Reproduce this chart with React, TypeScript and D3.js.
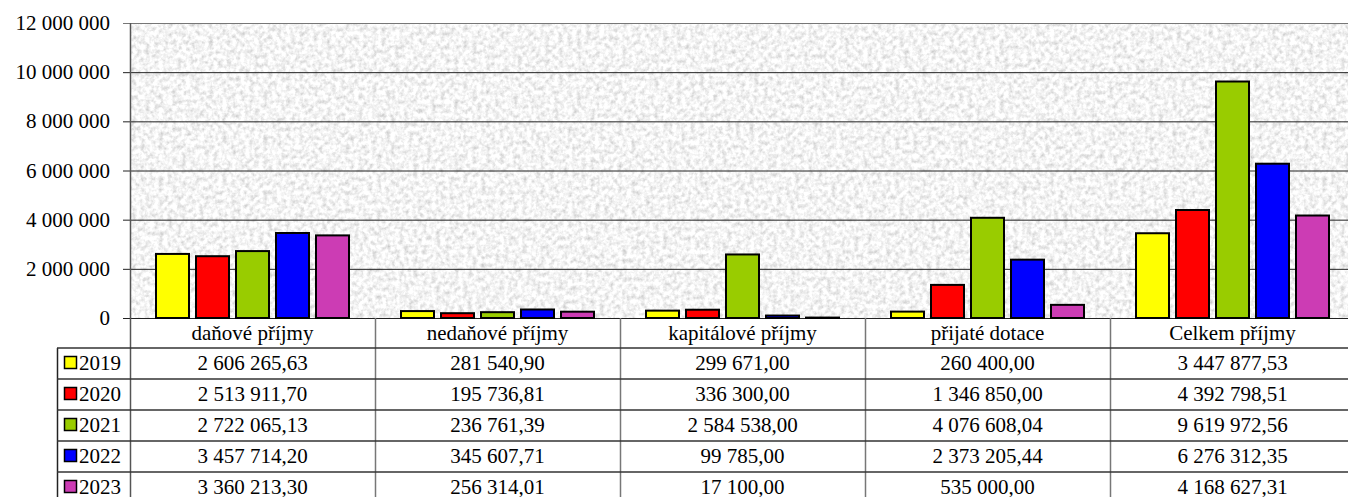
// @ts-nocheck
import { useRef, useEffect } from "react";
import * as d3 from "d3";

const categories = [
  "daňové příjmy",
  "nedaňové příjmy",
  "kapitálové příjmy",
  "přijaté dotace",
  "Celkem příjmy",
];
const years = ["2019", "2020", "2021", "2022", "2023"];
const colors = ["#ffff00", "#ff0000", "#99cc00", "#0000ff", "#cc3cb4"];

const v2019 = [2606265.63, 281540.9, 299671.0, 260400.0, 3447877.53];
const v2020 = [2513911.7, 195736.81, 336300.0, 1346850.0, 4392798.51];
const v2021 = [2722065.13, 236761.39, 2584538.0, 4076608.04, 9619972.56];
const v2022 = [3457714.2, 345607.71, 99785.0, 2373205.44, 6276312.35];
const v2023 = [3360213.3, 256314.01, 17100.0, 535000.0, 4168627.31];
const series = [v2019, v2020, v2021, v2022, v2023];

const yTicks = [0, 2000000, 4000000, 6000000, 8000000, 10000000, 12000000];

const W = 1348;
const H = 497;

const spaceFmt = (n) => {
  const s = Math.round(n).toString();
  return s.replace(/\B(?=(\d{3})+(?!\d))/g, " ");
};
const moneyFmt = (n) => {
  const parts = n.toFixed(2).split(".");
  return spaceFmt(+parts[0]) + "," + parts[1];
};

const FONT = '"Liberation Serif", Tinos, "Times New Roman", "DejaVu Serif", serif';

const Chart = () => {
  const svgRef = useRef();

  useEffect(() => {
    const svg = d3.select(svgRef.current);
    svg.selectAll("*").remove();

    const left = 130;
    const right = 1355;
    const top = 23;
    const bottom = 318;
    const fs = 21;

    const x0 = d3.scaleBand().domain(categories).range([left, right]).padding(0);
    const x1 = d3
      .scaleBand()
      .domain(years)
      .range([0, x0.bandwidth()])
      .paddingInner(0.175)
      .paddingOuter(0.65);
    const y = d3.scaleLinear().domain([0, 12000000]).range([bottom, top]);

    // zrnitá textura pozadí
    const defs = svg.append("defs");
    const f = defs
      .append("filter")
      .attr("id", "granite")
      .attr("filterUnits", "userSpaceOnUse")
      .attr("x", left)
      .attr("y", top)
      .attr("width", right - left)
      .attr("height", bottom - top);
    f.append("feTurbulence")
      .attr("type", "fractalNoise")
      .attr("baseFrequency", "0.22")
      .attr("numOctaves", 3)
      .attr("seed", 4);
    f.append("feColorMatrix")
      .attr("type", "matrix")
      .attr(
        "values",
        "0.75 0 0 0 0.53  0.75 0 0 0 0.53  0.75 0 0 0 0.53  0 0 0 0 1"
      );

    svg.append("rect").attr("width", W).attr("height", H).attr("fill", "#fff");
    svg
      .append("rect")
      .attr("x", left)
      .attr("y", top)
      .attr("width", right - left)
      .attr("height", bottom - top)
      .attr("fill", "#e8e8e8")
      .attr("filter", "url(#granite)");

    // mřížka
    svg
      .append("g")
      .selectAll("line")
      .data(yTicks)
      .enter()
      .append("line")
      .attr("x1", left - 7)
      .attr("x2", right)
      .attr("y1", (d) => y(d) + 0.5)
      .attr("y2", (d) => y(d) + 0.5)
      .attr("stroke", (d) => (d === 12000000 ? "#777" : "#222"))
      .attr("stroke-width", 1);

    svg
      .append("g")
      .selectAll("text")
      .data(yTicks)
      .enter()
      .append("text")
      .attr("x", 110)
      .attr("y", (d) => y(d))
      .attr("dy", "0.34em")
      .attr("text-anchor", "end")
      .style("font-family", FONT)
      .style("font-size", fs + "px")
      .attr("fill", "#000")
      .text((d) => spaceFmt(d));

    // sloupce
    const groups = svg
      .append("g")
      .selectAll("g")
      .data(categories)
      .enter()
      .append("g")
      .attr("transform", (d) => `translate(${x0(d)},0)`);

    groups
      .selectAll("rect")
      .data((c, ci) => years.map((yr, si) => ({ yr, si, v: series[si][ci] })))
      .enter()
      .append("rect")
      .attr("x", (d) => x1(d.yr))
      .attr("y", (d) => y(d.v))
      .attr("width", x1.bandwidth())
      .attr("height", (d) => bottom - y(d.v))
      .attr("fill", (d) => colors[d.si])
      .attr("stroke", "#000")
      .attr("stroke-width", 2);

    // tabulka dat
    const rowTop = 348;
    const rowH = 31;
    const tableLeft = 57;
    const tg = svg.append("g");

    const vx = [left, ...categories.slice(1).map((c) => x0(c))];
    tg.selectAll("line.v")
      .data(vx)
      .enter()
      .append("line")
      .attr("x1", (d) => Math.round(d) + 0.5)
      .attr("x2", (d) => Math.round(d) + 0.5)
      .attr("y1", bottom)
      .attr("y2", H)
      .attr("stroke", (d, i) => (i === 0 ? "#555" : "#777"))
      .attr("stroke-width", 1.5);
    tg.append("line")
      .attr("x1", tableLeft + 0.5)
      .attr("x2", tableLeft + 0.5)
      .attr("y1", rowTop)
      .attr("y2", H)
      .attr("stroke", "#222")
      .attr("stroke-width", 1.5);

    tg.selectAll("line.h")
      .data(d3.range(years.length))
      .enter()
      .append("line")
      .attr("x1", tableLeft)
      .attr("x2", right)
      .attr("y1", (i) => rowTop + i * rowH)
      .attr("y2", (i) => rowTop + i * rowH)
      .attr("stroke", "#333")
      .attr("stroke-width", 1.5);

    svg
      .append("line")
      .attr("x1", left + 0.5)
      .attr("x2", left + 0.5)
      .attr("y1", top)
      .attr("y2", bottom)
      .attr("stroke", "#555")
      .attr("stroke-width", 1.5);

    tg.selectAll("text.cat")
      .data(categories)
      .enter()
      .append("text")
      .attr("x", (d) => x0(d) + x0.bandwidth() / 2)
      .attr("y", (bottom + rowTop) / 2)
      .attr("dy", "0.34em")
      .attr("text-anchor", "middle")
      .style("font-family", FONT)
      .style("font-size", fs + "px")
      .text((d) => d);

    years.forEach((yr, si) => {
      const cy = rowTop + si * rowH + rowH / 2 - 1;
      tg.append("rect")
        .attr("x", 64.5)
        .attr("y", cy - 6)
        .attr("width", 12)
        .attr("height", 12)
        .attr("fill", colors[si])
        .attr("stroke", "#000")
        .attr("stroke-width", 1.5);
      tg.append("text")
        .attr("x", 79)
        .attr("y", cy)
        .attr("dy", "0.34em")
        .style("font-family", FONT)
        .style("font-size", fs + "px")
        .text(yr);
      categories.forEach((c, ci) => {
        tg.append("text")
          .attr("x", x0(c) + x0.bandwidth() / 2)
          .attr("y", cy)
          .attr("dy", "0.34em")
          .attr("text-anchor", "middle")
          .style("font-family", FONT)
          .style("font-size", fs + "px")
          .text(moneyFmt(series[si][ci]));
      });
    });
  }, []);

  return (
    <svg
      ref={svgRef}
      width={W}
      height={H}
      style={{ position: "absolute", left: 0, top: 0, display: "block" }}
    ></svg>
  );
};

export default function App() {
  return <Chart />;
}
